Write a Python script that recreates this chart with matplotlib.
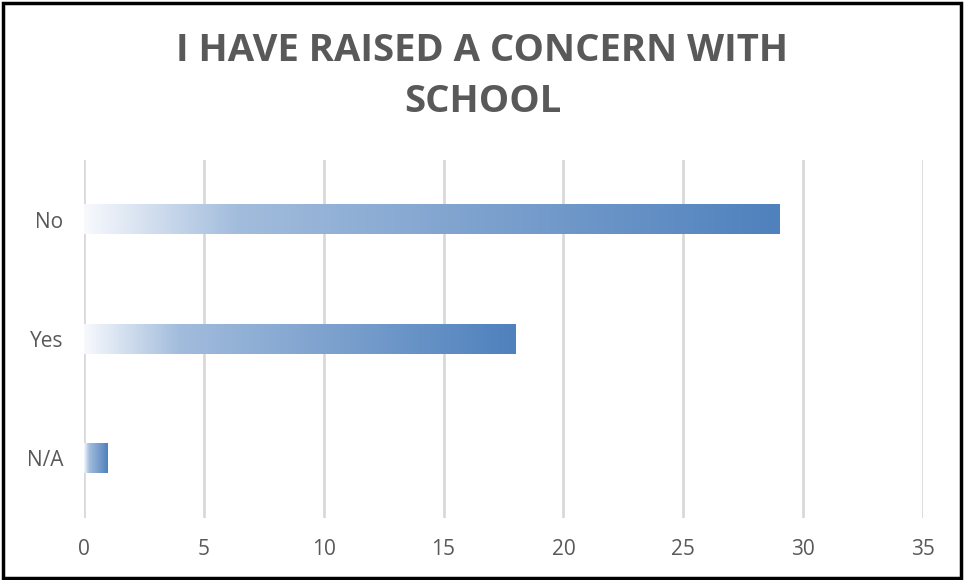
import matplotlib
matplotlib.use("Agg")
import matplotlib.pyplot as plt
import numpy as np
from matplotlib.colors import LinearSegmentedColormap
from matplotlib.patches import Rectangle

categories = ["N/A", "Yes", "No"]
values = [1, 18, 29]
xticks = [0, 5, 10, 15, 20, 25, 30, 35]
title = "I HAVE RAISED A CONCERN WITH\nSCHOOL"

plt.rcParams['font.family'] = ['Open Sans', 'DejaVu Sans']

fig = plt.figure(figsize=(9.65, 5.8), dpi=100)
ax = fig.add_axes([0.087, 0.107, 0.8695, 0.617])

cmap = LinearSegmentedColormap.from_list(
    "grad", [(0.0, "#f7f9fd"), (0.22, "#a2bcdc"), (1.0, "#4f81bd")])
grad = np.linspace(0, 1, 256).reshape(1, -1)
h = 0.245
for i, v in enumerate(values):
    ax.imshow(grad, cmap=cmap, aspect='auto', extent=[0, v, i - h / 2, i + h / 2],
              interpolation='bicubic', zorder=3)

ax.set_xlim(0, 35)
ax.set_ylim(-0.5, 2.5)
ax.set_xticks(xticks)
ax.set_yticks(range(len(categories)))
ax.set_yticklabels(categories)
ax.grid(axis='x', color='#d9d9d9', linewidth=2, zorder=0)
ax.set_axisbelow(True)
for s in ax.spines.values():
    s.set_visible(False)
ax.tick_params(axis='both', length=0, labelsize=15, colors='#595959')
ax.tick_params(axis='y', pad=15)
ax.tick_params(axis='x', pad=15)

fig.text(0.5, 0.868, title, ha='center', va='center', fontsize=27.5,
         fontweight='bold', color='#595959', linespacing=1.45)

fig.patches.append(Rectangle((0.003, 0.004), 0.993, 0.991, transform=fig.transFigure,
                             fill=False, edgecolor='black', linewidth=2.5))

fig.savefig("out.png", dpi=100)
